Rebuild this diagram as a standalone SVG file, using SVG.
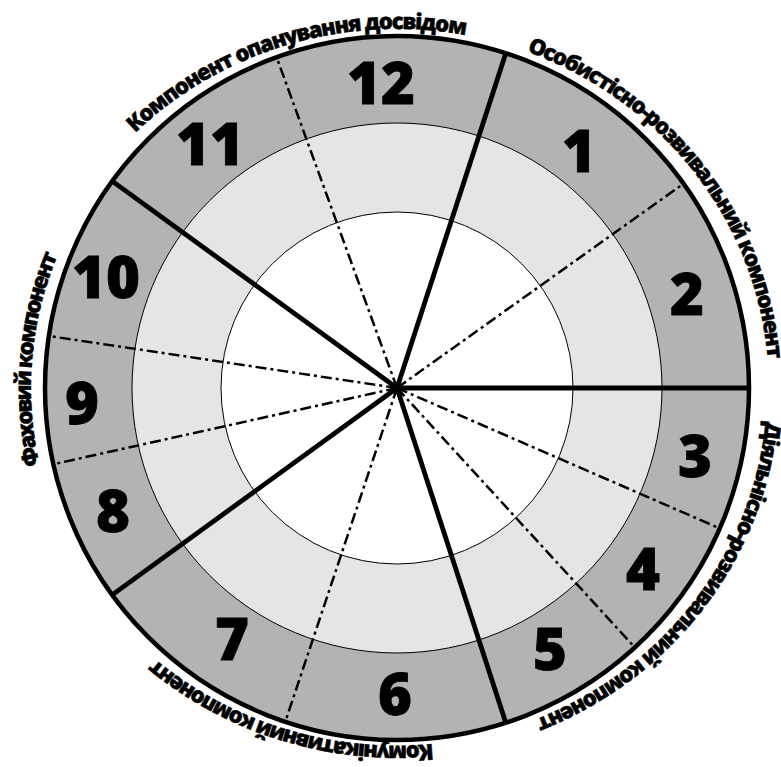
<svg xmlns="http://www.w3.org/2000/svg" width="781" height="767" viewBox="0 0 781 767">
<style>
.ring{stroke:#000;stroke-width:1}
.thick{stroke:#000;stroke-width:4.8;stroke-linecap:butt;fill:none}
.dash{stroke:#000;stroke-width:2.5;stroke-dasharray:11 4 3 4;fill:none}
.num{font-family:"Open Sans","DejaVu Sans",sans-serif;font-weight:800;font-size:58px;fill:#000;stroke:#000;stroke-width:0.8;text-anchor:middle}
.lbl{font-family:"Open Sans","DejaVu Sans",sans-serif;font-weight:800;font-size:22px;fill:#000;stroke:#000;stroke-width:0.5}
</style>
<defs>
<path id="pA" d="M42.2,496 A372,359 0 0 1 751.8,280"/>
<path id="pB" d="M176.2,99 A372,359 0 0 1 617.8,677"/>
<path id="pC" d="M615.7,97.6 A372,359 0 0 1 178.3,678.4"/>
<path id="pD" d="M750.6,499.5 A372,359 0 0 1 43.4,276.5"/>
<path id="pE" d="M367.2,745.8 A372,359 0 0 1 426.8,30.2"/>
</defs>
<rect width="781" height="767" fill="#fff"/>
<g id="rings">
<circle cx="397" cy="388" r="352" fill="#b3b3b3"/>
<circle cx="397" cy="388" r="265" fill="#e5e5e5" class="ring"/>
<circle cx="397" cy="388" r="176" fill="#fff" class="ring"/>
</g>
<g id="connectors">
<path class="dash" d="M397,388 L681.9,184.8"/>
<path class="dash" d="M397,388 L277.3,59.1"/>
<path class="dash" d="M397,388 L50.8,336.3"/>
<path class="dash" d="M397,388 L55.3,463.8"/>
<path class="dash" d="M397,388 L285.9,719.9"/>
<path class="dash" d="M397,388 L633.5,646"/>
<path class="dash" d="M397,388 L718,527.6"/>
<path class="thick" d="M397,388 L749,388"/>
<path class="thick" d="M397,388 L505.8,53.2"/>
<path class="thick" d="M397,388 L112.2,181.1"/>
<path class="thick" d="M397,388 L112.2,594.9"/>
<path class="thick" d="M397,388 L505.8,722.8"/>
<circle cx="397" cy="388" r="352" fill="none" stroke="#000" stroke-width="4.5"/>
</g>
<g id="seg1"><text class="num" x="579" y="172">1</text></g>
<g id="seg2"><text class="num" x="687" y="315">2</text></g>
<g id="seg3"><text class="num" x="695" y="477">3</text></g>
<g id="seg4"><text class="num" x="643" y="590">4</text></g>
<g id="seg5"><text class="num" x="550" y="670">5</text></g>
<g id="seg6"><text class="num" x="395" y="715">6</text></g>
<g id="seg7"><text class="num" x="232" y="660">7</text></g>
<g id="seg8"><text class="num" x="113" y="532">8</text></g>
<g id="seg9"><text class="num" x="82" y="424">9</text></g>
<g id="seg10"><text class="num" x="106" y="298">10</text></g>
<g id="seg11"><text class="num" x="210" y="165">11</text></g>
<g id="seg12"><text class="num" x="381" y="104">12</text></g>
<g id="labels">
<text class="lbl"><textPath href="#pA" startOffset="50%" text-anchor="middle" textLength="358">Компонент опанування досвідом</textPath></text>
<text class="lbl"><textPath href="#pB" startOffset="50%" text-anchor="middle" textLength="413">Особистісно-розвивальний компонент</textPath></text>
<text class="lbl"><textPath href="#pC" startOffset="50%" text-anchor="middle" textLength="396">Діяльнісно-розвивальний компонент</textPath></text>
<text class="lbl"><textPath href="#pD" startOffset="50%" text-anchor="middle" textLength="298">Комунікативний компонент</textPath></text>
<text class="lbl"><textPath href="#pE" startOffset="50%" text-anchor="middle" textLength="214">Фаховий компонент</textPath></text>
</g>
</svg>
